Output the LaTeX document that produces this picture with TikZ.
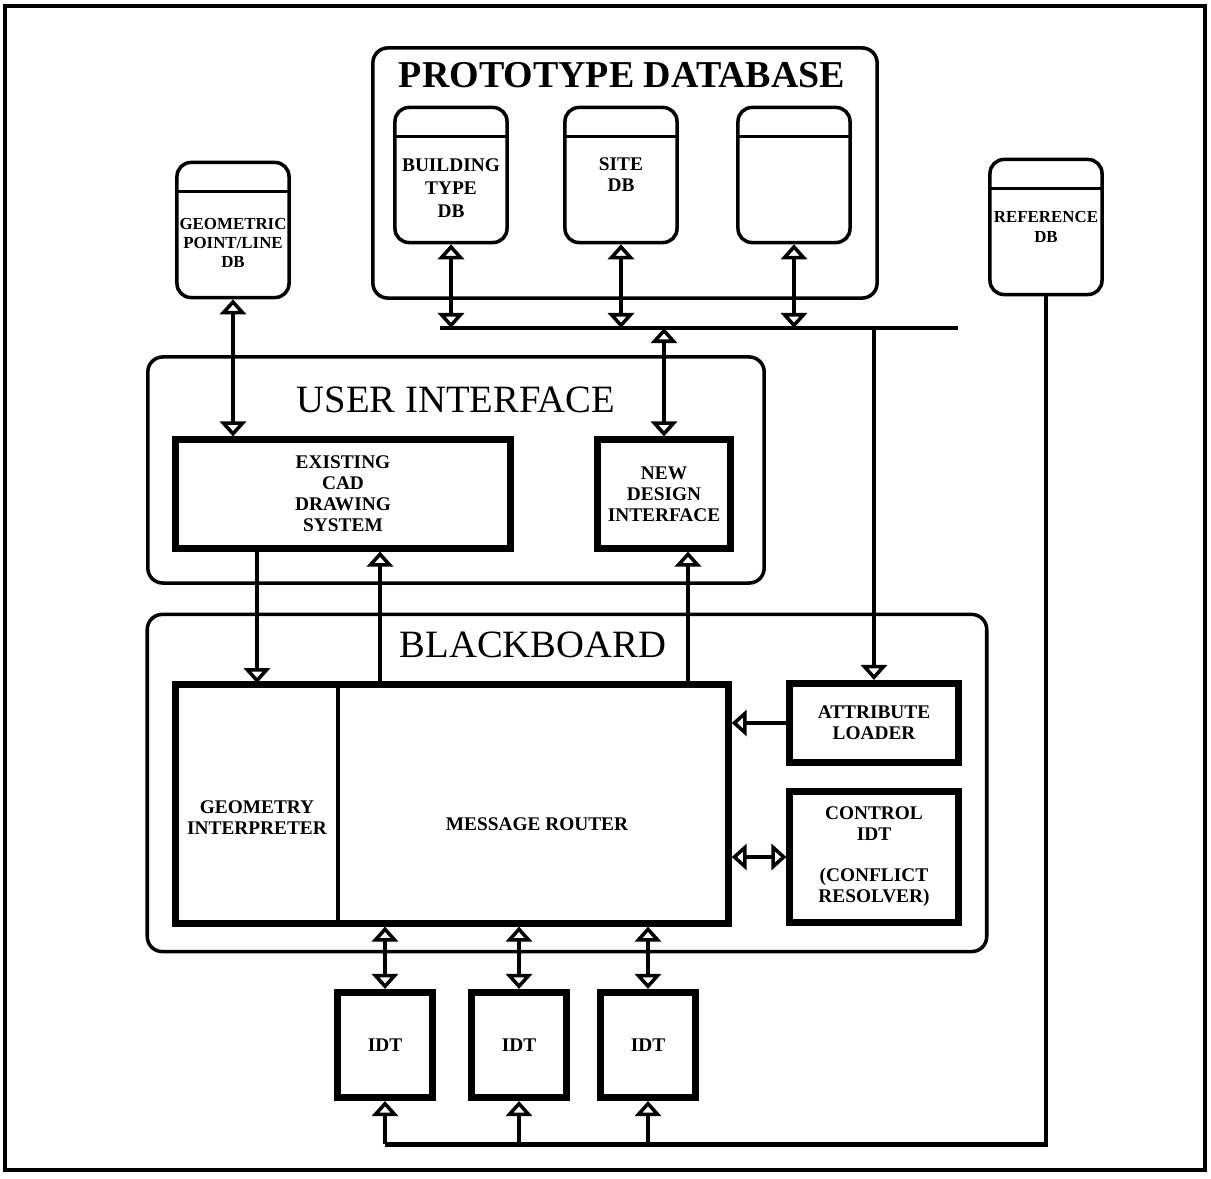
\documentclass[tikz,border=0pt]{standalone}
\usepackage{fontspec}
\setmainfont{Liberation Serif}
\usepackage{tikz}
\usetikzlibrary{arrows.meta, positioning}
\tikzset{
  frame/.style={line width=1.1pt},
  group/.style={rectangle, draw, rounded corners=0.15cm, line width=1pt},
  grouptitle/.style={font=\fontsize{11}{13}\selectfont},
  labeltext/.style={align=center, inner sep=1pt, font=\fontsize{5.5}{6}\selectfont\bfseries},
  narrowtext/.style={labeltext, font=\fontsize{4.8}{5.5}\selectfont\bfseries},
  dbcyl/.style={rectangle, draw, rounded corners=0.14cm, line width=1pt,
    minimum width=1.12cm, minimum height=1.35cm,
    path picture={\draw[line width=1pt]
      ([yshift=-0.29cm]path picture bounding box.north west) --
      ([yshift=-0.29cm]path picture bounding box.north east);}},
  block/.style={rectangle, draw, line width=2pt, labeltext},
  thinblock/.style={rectangle, draw, line width=1pt},
  oarr/.tip={Triangle[open, width=0.26cm, length=0.15cm, line width=1pt]},
  wire/.style={line width=1.4pt},
  link/.style={wire, arrows={-oarr}},
  dbllink/.style={wire, arrows={oarr-oarr}}
}
\begin{document}
\begin{tikzpicture}[x=0.01cm, y=-0.01cm]
  \useasboundingbox (0,0) rectangle (1211,1179);
  \draw[frame] (5,6) rectangle (1205,1170);

  % Prototype database
  \node[group, minimum width=5.04cm, minimum height=2.50cm] (proto) at (625,173) {};
  \node[grouptitle, font=\fontsize{10.8}{13}\selectfont\bfseries] (protot) at (622,75) {PROTOTYPE DATABASE};
  \node[dbcyl] (btdb) at (451,175) {};
  \node[dbcyl] (sitedb) at (621,175) {};
  \node[dbcyl] (spare) at (794,175) {};
  \node[labeltext, font=\fontsize{5.5}{6.6}\selectfont\bfseries] (btlabel) at ([yshift=-0.13cm]btdb.center) {BUILDING\\TYPE\\DB};
  \node[labeltext] (sitelabel) at (sitedb.center) {SITE\\DB};

  % Outside databases
  \node[dbcyl] (geodb) at (233,230) {};
  \node[dbcyl] (refdb) at (1046,227) {};
  \node[narrowtext] (geolabel) at ([yshift=-0.13cm]geodb.center) {GEOMETRIC\\POINT/LINE\\DB};
  \node[narrowtext] (reflabel) at (refdb.center) {REFERENCE\\DB};

  % User interface
  \node[group, minimum width=6.16cm, minimum height=2.26cm] (ui) at (456,470) {};
  \node[grouptitle] (uit) at (456,400) {USER INTERFACE};
  \node[block, minimum width=3.34cm, minimum height=1.08cm] (cad) at (343,494) {EXISTING\\CAD\\DRAWING\\SYSTEM};
  \node[block, minimum width=1.32cm, minimum height=1.08cm] (ndi) at (664,494) {NEW\\DESIGN\\INTERFACE};

  % Blackboard
  \node[group, minimum width=8.39cm, minimum height=3.37cm] (bb) at (567,783) {};
  \node[grouptitle] (bbt) at (533,645) {BLACKBOARD};
  \node[thinblock, minimum width=1.62cm, minimum height=2.38cm] (gibox) at (257,804) {};
  \node[block, minimum width=5.52cm, minimum height=2.38cm] (core) at (452,804) {};
  \node[labeltext] (gi) at (257,818) {GEOMETRY\\INTERPRETER};
  \node[labeltext] (mr) at (537,824) {MESSAGE ROUTER};
  \node[block, minimum width=1.68cm, minimum height=0.79cm] (attr) at (874,723) {ATTRIBUTE\\LOADER};
  \node[block, minimum width=1.68cm, minimum height=1.31cm] (ctrl) at (874,857) {CONTROL\\IDT\\[0.2cm](CONFLICT\\RESOLVER)};

  % IDTs
  \node[block, minimum width=0.94cm, minimum height=1.05cm] (idta) at (385,1045) {IDT};
  \node[block, minimum width=0.94cm, minimum height=1.05cm] (idtb) at (519,1045) {IDT};
  \node[block, minimum width=0.94cm, minimum height=1.05cm] (idtc) at (648,1045) {IDT};

  % Database bus
  \coordinate (busl) at (440,328);
  \coordinate (busr) at (958,328);
  \draw[wire] (busl) -- (busr);
  \draw[dbllink] (btdb.south) -- (btdb.south |- busl);
  \draw[dbllink] (sitedb.south) -- (sitedb.south |- busl);
  \draw[dbllink] (spare.south) -- (spare.south |- busl);
  \draw[dbllink] (ndi.north |- busl) -- (ndi.north);
  \draw[link] (attr.north |- busl) -- (attr.north);
  \draw[dbllink] (geodb.south) -- (geodb.south |- cad.north);

  % Interface to blackboard
  \coordinate (cadup) at ([xshift=0.37cm]cad.south);
  \coordinate (ndiup) at ([xshift=0.24cm]ndi.south);
  \draw[link] (gibox.north |- cad.south) -- (gibox.north);
  \draw[link] (cadup |- core.north) -- (cadup);
  \draw[link] (ndiup |- core.north) -- (ndiup);
  \draw[link] (attr.west) -- (attr.west -| core.east);
  \draw[dbllink] (ctrl.west -| core.east) -- (ctrl.west);

  % Blackboard to IDTs
  \draw[dbllink] (idta.north |- core.south) -- (idta.north);
  \draw[dbllink] (idtb.north |- core.south) -- (idtb.north);
  \draw[dbllink] (idtc.north |- core.south) -- (idtc.north);

  % Reference feed
  \path (refdb.south) ++(0,848) coordinate (rail);
  \draw[wire] (refdb.south) -- (rail) -- (rail -| idta.south);
  \draw[link] (rail -| idta.south) -- (idta.south);
  \draw[link] (rail -| idtb.south) -- (idtb.south);
  \draw[link] (rail -| idtc.south) -- (idtc.south);
\end{tikzpicture}
\end{document}
